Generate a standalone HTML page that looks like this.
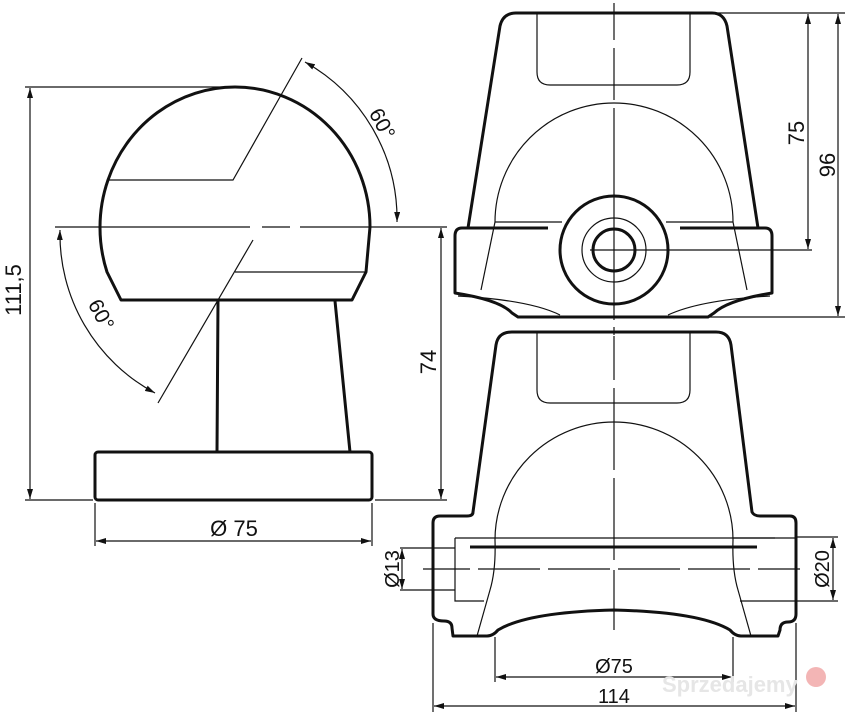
<!DOCTYPE html>
<html><head><meta charset="utf-8"><style>
html,body{margin:0;padding:0;background:#fff;}
svg{display:block}
text{font-family:"Liberation Sans",sans-serif;fill:#111;}
</style></head><body>
<svg width="847" height="720" viewBox="0 0 847 720" xmlns="http://www.w3.org/2000/svg">
<defs>
<marker id="a" viewBox="0 0 10 6" refX="10" refY="3" markerWidth="10" markerHeight="6" orient="auto-start-reverse" markerUnits="userSpaceOnUse"><path d="M0,0 L10,3 L0,6 z" fill="#111"/></marker>
</defs>
<g fill="none" stroke="#111">
<!-- LEFT VIEW -->
<g stroke-width="3" stroke-linejoin="round">
<path d="M108,180 A135,140 0 0 1 235,87 A135,140 0 0 1 370,227 L366,272 L352,300 L121,300 L107,272 A135,140 0 0 1 100,227 A135,140 0 0 1 108,180 Z"/>
<path d="M218,301 L217,452 M335,301 L350,452"/>
<rect x="95" y="452" width="277" height="48" rx="3"/>
</g>
<g stroke-width="1.2">
<path d="M108,180 L233,180 L302,58"/>
<path d="M366,272 L235,272"/>
<path d="M253,240 L158,403"/>
<path d="M55,227 L250,227 M262,227 L290,227 M300,227 L447,227"/>
<path d="M25,87 L235,87 M25,500 L93,500 M375,500 L447,500"/>
<path d="M30,88 L30,499" marker-start="url(#a)" marker-end="url(#a)"/>
<path d="M441,228 L441,499" marker-start="url(#a)" marker-end="url(#a)"/>
<path d="M95,503 L95,546 M372,503 L372,546"/>
<path d="M96,541 L371,541" marker-start="url(#a)" marker-end="url(#a)"/>
<path d="M305,62 A180,180 0 0 1 397,222" marker-start="url(#a)" marker-end="url(#a)"/>
<path d="M60,230 A180,180 0 0 0 155,393" marker-start="url(#a)" marker-end="url(#a)"/>
</g>
<!-- TOP RIGHT VIEW -->
<g stroke-width="3" stroke-linejoin="round">
<path d="M468,228 L500,26 Q503,13 516,13 L712,13 Q724,13 727,26 L758,228"/>
<path d="M548,228 L462,228 Q455,228 455,236 L455,293 Q500,300 512,313 L518,317 L708,317 L714,313 Q728,300 772,293 L772,236 Q772,228 765,228 L680,228"/>
<circle cx="614" cy="250" r="54"/>
<circle cx="614" cy="250" r="21"/>
</g>
<g stroke-width="1.2">
<circle cx="614" cy="250" r="32"/>
<path d="M537,13 L537,72 Q537,85 550,85 L677,85 Q690,85 690,72 L690,13"/>
<path d="M495,222 A119,119 0 0 1 733,222 L747,290 M495,222 L481,290"/>
<path d="M495,222 L562,222 M666,222 L733,222"/>
<path d="M458,296 Q530,300 560,315 M668,315 Q700,300 770,296"/>
<path d="M590,250 L670,250"/>
<path d="M614,3 L614,40 M614,48 L614,100 M614,108 L614,320 M614,327 L614,335" />
<path d="M718,13 L845,13 M670,250 L812,250 M708,317 L845,317"/>
<path d="M808,14 L808,249" marker-start="url(#a)" marker-end="url(#a)"/>
<path d="M838,14 L838,316" marker-start="url(#a)" marker-end="url(#a)"/>
</g>
<!-- BOTTOM RIGHT VIEW -->
<g stroke-width="3" stroke-linejoin="round">
<path d="M473,512 L496,345 Q498,332 512,332 L716,332 Q729,332 731,345 L752,512 Q754,516 760,516 L790,516 Q796,516 796,523 L796,614 Q796,622 788,622 Q780,622 780,630 L778,636 L741,636 Q735,636 730,630 Q700,612 614,610 Q528,612 498,630 Q493,636 487,636 L453,636 L452,628 Q452,621 444,621 Q433,621 433,614 L433,523 Q433,516 440,516 L467,516 Q473,516 473,512 Z"/>
<path d="M470,547 L757,547"/>
</g>
<g stroke-width="1.2">
<path d="M537,332 L537,390 Q537,403 550,403 L677,403 Q690,403 690,390 L690,332"/>
<path d="M495,540 A119,118 0 0 1 733,540"/>
<path d="M495,540 Q496,570 490,590 L477,636 M733,540 Q732,570 738,590 L751,636"/>
<path d="M455,538 L775,538"/>
<path d="M455,538 L455,601 L484,601 M733,538 L796,538 M740,601 L796,601"/>
<path d="M423,569 L470,569 M478,569 L540,569 M548,569 L610,569 M618,569 L680,569 M688,569 L750,569 M758,569 L800,569"/>
<path d="M614,336 L614,380 M614,388 L614,470 M614,478 L614,560 M614,570 L614,630"/>
<path d="M400,548 L455,548 M400,590 L455,590"/>
<path d="M402,549 L402,589" marker-start="url(#a)" marker-end="url(#a)"/>
<path d="M796,537 L838,537 M796,601 L838,601"/>
<path d="M833,538 L833,600" marker-start="url(#a)" marker-end="url(#a)"/>
<path d="M495,637 L495,682 M733,637 L733,682"/>
<path d="M496,677 L732,677" marker-start="url(#a)" marker-end="url(#a)"/>
<path d="M433,623 L433,712 M796,623 L796,712"/>
<path d="M434,706 L795,706" marker-start="url(#a)" marker-end="url(#a)"/>
</g>
</g>
<!-- TEXT -->
<text x="0" y="0" font-size="22" text-anchor="middle" transform="translate(21,290) rotate(-90)">111,5</text>
<text x="0" y="0" font-size="22" text-anchor="middle" transform="translate(436,362) rotate(-90)">74</text>
<text x="234" y="536" font-size="22" text-anchor="middle">Ø 75</text>
<text x="0" y="0" font-size="21" text-anchor="middle" transform="translate(376,127) rotate(62)">60°</text>
<text x="0" y="0" font-size="21" text-anchor="middle" transform="translate(95,318) rotate(62)">60°</text>
<text x="0" y="0" font-size="22" text-anchor="middle" transform="translate(804,133) rotate(-90)">75</text>
<text x="0" y="0" font-size="22" text-anchor="middle" transform="translate(835,165) rotate(-90)">96</text>
<text x="0" y="0" font-size="20" text-anchor="middle" transform="translate(399,569) rotate(-90)">Ø13</text>
<text x="0" y="0" font-size="20" text-anchor="middle" transform="translate(829,569) rotate(-90)">Ø20</text>
<text x="614" y="673" font-size="20" text-anchor="middle">Ø75</text>
<text x="614" y="703" font-size="20" text-anchor="middle">114</text>
<text x="662" y="692" font-size="22" font-weight="bold" style="fill:#e6e6e6">Sprzedajemy</text>
<circle cx="816" cy="677" r="10" fill="#f3b5b5"/>
</svg>
</body></html>
